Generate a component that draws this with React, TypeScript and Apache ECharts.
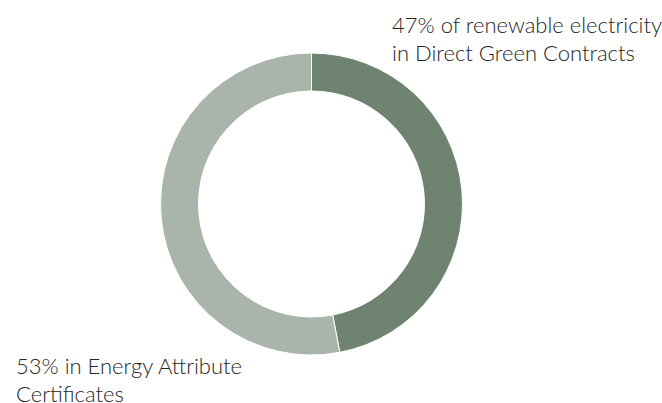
import React, { useEffect, useRef } from "react";
import * as echarts from "echarts";

const categories = ["Direct Green Contracts", "Energy Attribute Certificates"];
const shares = [47, 53];
const labelLines = [
  ["47% of renewable electricity", "in Direct Green Contracts"],
  ["53% in Energy Attribute", "Certificates"],
];
const colors = ["#6e8470", "#a9b5aa"];

export default function App() {
  const ref = useRef<HTMLDivElement>(null);
  useEffect(() => {
    document.body.style.margin = "0";
    const chart = echarts.init(ref.current!, null, { renderer: "svg" });
    const labelPos = [
      { x: 392, y: 10 },
      { x: 16, y: 351 },
    ];
    chart.setOption({
      animation: false,
      backgroundColor: "#ffffff",
      series: [
        {
          type: "pie",
          center: [311.5, 204],
          radius: [113, 151],
          startAngle: 90,
          clockwise: true,
          silent: true,
          avoidLabelOverlap: false,
          itemStyle: { borderColor: "#ffffff", borderWidth: 1 },
          label: {
            show: true,
            position: "outside",
            formatter: (p: any) => labelLines[p.dataIndex].join("\n"),
            fontFamily: "Lato",
            fontWeight: 300,
            fontSize: 22,
            lineHeight: 28.5,
            color: "#262626",
            align: "left",
            overflow: "none",
            width: 300,
          },
          labelLine: { show: false },
          labelLayout: (p: any) => ({
            x: labelPos[p.dataIndex].x,
            y: labelPos[p.dataIndex].y,
            align: "left",
            verticalAlign: "top",
            width: 300,
          }),
          data: categories.map((c, i) => ({
            name: c,
            value: shares[i],
            itemStyle: { color: colors[i] },
          })),
        },
      ],
    });
    return () => chart.dispose();
  }, []);
  return <div ref={ref} style={{ width: 662, height: 403 }} />;
}
